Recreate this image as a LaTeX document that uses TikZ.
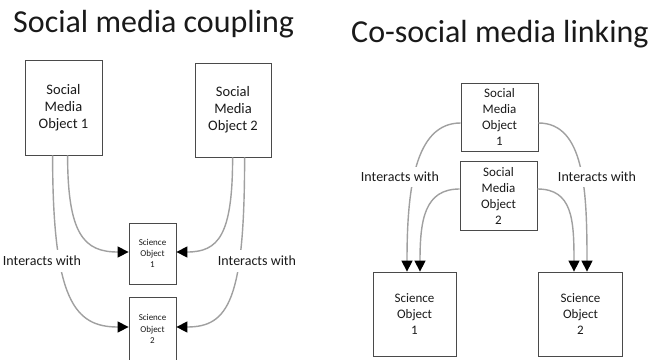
\documentclass[tikz,border=0pt]{standalone}
\usepackage{fontspec}
\setmainfont{Carlito}
\usetikzlibrary{arrows.meta}
\definecolor{boxline}{HTML}{4A4A4A}
\definecolor{linkline}{HTML}{A0A0A0}
\definecolor{ink}{HTML}{1A1A1A}
\begin{document}
\begin{tikzpicture}[x=1pt,y=-1pt,
  objbox/.style={draw=boxline,line width=0.8pt,align=center,inner sep=0pt,text=ink},
  link/.style={draw=linkline,line width=1.4pt,
    -{Triangle[length=11pt,width=11pt,color=black,fill=black]}},
  linklabel/.style={fill=white,inner xsep=2pt,inner ysep=6pt,text=ink,font=\fontsize{14}{16}\selectfont},
  headline/.style={anchor=base west,inner sep=0pt,text=ink,font=\fontsize{32}{36}\selectfont}]
\clip (0,0) rectangle (660,359);
\fill[white] (0,0) rectangle (660,359);

% titles
\node[headline] (t1) at (13,32) {Social media coupling};
\node[headline] (t2) at (351,42) {Co-social media linking};

% ---- coupling ----
\node[objbox,minimum width=77pt,minimum height=95pt,font=\fontsize{14.5}{17}\selectfont]
  (lsm1) at (63.5,107.5) {Social\\Media\\Object 1};
\node[objbox,minimum width=76pt,minimum height=94pt,font=\fontsize{14.5}{17}\selectfont]
  (lsm2) at (233,110) {Social\\Media\\Object 2};
\node[objbox,minimum width=47pt,minimum height=61pt,font=\fontsize{9}{11.3}\selectfont]
  (lso1) at (152.5,253.5) {Science\\Object\\1};
\node[objbox,minimum width=47pt,minimum height=64pt,font=\fontsize{9}{11.3}\selectfont]
  (lso2) at (152.5,329) {Science\\Object\\2};

\draw[link] ([xshift=43pt]lsm1.south west)
  .. controls +(0,80) and +(-44,0) .. ([yshift=1.5pt]lso1.west);
\draw[link] ([xshift=28pt]lsm1.south west)
  .. controls +(0,145) and +(-54,0) .. ([yshift=2pt]lso2.west);
\draw[link] ([xshift=38pt]lsm2.south west)
  .. controls +(0,78) and +(42,0) .. ([yshift=1.5pt]lso1.east);
\draw[link] ([xshift=50pt]lsm2.south west)
  .. controls +(0,143) and +(52,0) .. ([yshift=2pt]lso2.east);

\node[linklabel] (l1) at (42,261) {Interacts with};
\node[linklabel] (l2) at (257,261) {Interacts with};

% ---- linking ----
\node[objbox,minimum width=77pt,minimum height=68pt,font=\fontsize{13}{16}\selectfont]
  (rsm1) at (499.5,117) {Social\\Media\\Object\\1};
\node[objbox,minimum width=77pt,minimum height=69pt,font=\fontsize{13}{16}\selectfont]
  (rsm2) at (498.5,195.5) {Social\\Media\\Object\\2};
\node[objbox,minimum width=83pt,minimum height=84pt,font=\fontsize{13}{16}\selectfont]
  (rso1) at (414.5,314) {Science\\Object\\1};
\node[objbox,minimum width=84pt,minimum height=84pt,font=\fontsize{13}{16}\selectfont]
  (rso2) at (580.5,314) {Science\\Object\\2};

\draw[link] ([yshift=-6pt]rsm1.west)
  .. controls +(-46,0) and +(0,-82) .. ([xshift=-7.5pt]rso1.north);
\draw[link] ([yshift=6.5pt]rsm2.west)
  .. controls +(-35,0) and +(0,-52) .. ([xshift=5.5pt]rso1.north);
\draw[link] ([yshift=6.5pt]rsm2.east)
  .. controls +(35,0) and +(0,-52) .. ([xshift=-6.5pt]rso2.north);
\draw[link] ([yshift=-6pt]rsm1.east)
  .. controls +(46,0) and +(0,-82) .. ([xshift=6.5pt]rso2.north);

\node[linklabel,inner ysep=5pt] (l3) at (400,177) {Interacts with};
\node[linklabel,inner ysep=5pt] (l4) at (597,177) {Interacts with};
\end{tikzpicture}
\end{document}
